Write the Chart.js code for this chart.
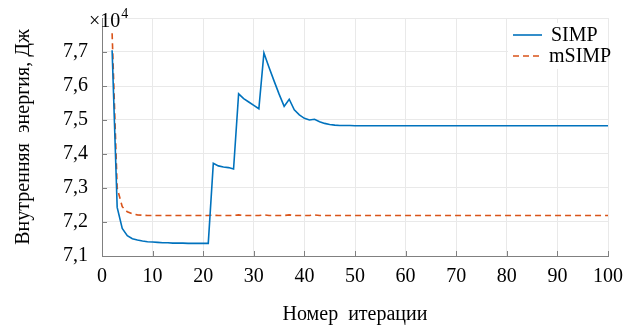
<!DOCTYPE html>
<html><head><meta charset="utf-8">
<script src="https://cdn.jsdelivr.net/npm/chart.js@4/dist/chart.umd.min.js"></script>
<style>html,body{margin:0;padding:0;background:#fff}#wrap{width:623px;height:329px}</style>
</head><body><div id="wrap"><canvas id="c" width="623" height="329"></canvas></div>
<script>
const iterations = [2,3,4,5,6,7,8,9,10,11,12,13,14,15,16,17,18,19,20,21,22,23,24,25,26,27,28,29,30,31,32,33,34,35,36,37,38,39,40,41,42,43,44,45,46,47,48,49,50,51,52,53,54,55,56,57,58,59,60,61,62,63,64,65,66,67,68,69,70,71,72,73,74,75,76,77,78,79,80,81,82,83,84,85,86,87,88,89,90,91,92,93,94,95,96,97,98,99,100];
const simp = [7.705,7.243,7.181,7.160,7.151,7.147,7.144,7.142,7.141,7.140,7.139,7.139,7.138,7.138,7.138,7.137,7.137,7.137,7.137,7.137,
  7.373,7.365,7.362,7.360,7.356,7.577,7.563,7.553,7.543,7.533,7.697,7.655,7.615,7.576,7.540,7.561,7.530,7.515,7.505,7.500,7.502,7.495,7.490,7.487,7.485,7.484,
  7.484,7.484,7.483,7.483,7.483,7.483,7.483,7.483,7.483,7.483,7.483,7.483,7.483,7.483,7.483,7.483,7.483,7.483,7.483,7.483,7.483,7.483,7.483,7.483,
  7.483,7.483,7.483,7.483,7.483,7.483,7.483,7.483,7.483,7.483,7.483,7.483,7.483,7.483,7.483,7.483,7.483,7.483,7.483,7.483,7.483,7.483,7.483,7.483,7.483,7.483,7.483,7.483,7.483];
const msimp = [7.755,7.300,7.245,7.230,7.224,7.221,7.220,7.219,7.219,7.219,7.219,7.219,7.219,7.219,7.219,7.219,7.219,7.219,7.219,7.219,
  7.220,7.219,7.219,7.219,7.219,7.221,7.219,7.219,7.219,7.219,7.221,7.219,7.219,7.219,7.219,7.221,7.219,7.219,7.219,7.219,7.221,7.219,7.219,7.219,7.219,7.219,
  7.219,7.219,7.219,7.219,7.219,7.219,7.219,7.219,7.219,7.219,7.219,7.219,7.219,7.219,7.219,7.219,7.219,7.219,7.219,7.219,7.219,7.219,7.219,7.219,
  7.219,7.219,7.219,7.219,7.219,7.219,7.219,7.219,7.219,7.219,7.219,7.219,7.219,7.219,7.219,7.219,7.219,7.219,7.219,7.219,7.219,7.219,7.219,7.219,7.219,7.219,7.219,7.219,7.219];
const seriesNames = ['SIMP','mSIMP'];
const xTickValues = [0,10,20,30,40,50,60,70,80,90,100];
const yTickValues = [7.1,7.2,7.3,7.4,7.5,7.6,7.7,7.8];
const exponentLabel = ['×10','4'];

const FONT = "'Liberation Serif', 'Times New Roman', serif";
const blue = '#0072BD', orange = '#D95319';

const extras = {
  id: 'extras',
  afterDraw(chart) {
    const ctx = chart.ctx, xs = chart.scales.x, ys = chart.scales.y, a = chart.chartArea;
    ctx.save();
    ctx.strokeStyle = '#808080'; ctx.lineWidth = 1;
    ctx.beginPath();
    xTickValues.forEach(v => { const p = Math.round(xs.getPixelForValue(v)) + 0.5; ctx.moveTo(p, a.bottom); ctx.lineTo(p, a.bottom - 5); });
    yTickValues.slice(0, -1).forEach(v => { const p = Math.round(ys.getPixelForValue(v)) + 0.5; ctx.moveTo(a.left, p); ctx.lineTo(a.left + 5, p); });
    ctx.stroke();
    ctx.fillStyle = '#000';
    ctx.textBaseline = 'alphabetic'; ctx.textAlign = 'left';
    ctx.font = '20px ' + FONT;
    ctx.fillText(exponentLabel[0], 89, 27);
    const w = ctx.measureText(exponentLabel[0]).width;
    ctx.font = '14px ' + FONT;
    ctx.fillText(exponentLabel[1], 89 + w + 1, 18);
    ctx.fillStyle = '#fff';
    ctx.fillRect(508, 23, 96, 46);
    const items = chart.data.datasets;
    const rows = [35, 56];
    items.forEach((ds, i) => {
      ctx.strokeStyle = ds.borderColor; ctx.lineWidth = 1.6;
      ctx.setLineDash(ds.borderDash || []);
      ctx.beginPath(); ctx.moveTo(513, rows[i]); ctx.lineTo(542, rows[i]); ctx.stroke();
      ctx.setLineDash([]);
      ctx.fillStyle = '#000'; ctx.font = '20px ' + FONT; ctx.textBaseline = 'middle';
      ctx.fillText(ds.label, i === 0 ? 551 : 549, rows[i] + 1);
    });
    ctx.restore();
  }
};

new Chart(document.getElementById('c'), {
  type: 'line',
  data: {
    datasets: [
      { label: seriesNames[0], data: iterations.map((x, i) => ({x, y: simp[i]})), borderColor: blue, borderWidth: 1.6, pointRadius: 0, fill: false, tension: 0 },
      { label: seriesNames[1], data: iterations.map((x, i) => ({x, y: msimp[i]})), borderColor: orange, borderWidth: 1.6, borderDash: [6, 4], pointRadius: 0, fill: false, tension: 0 }
    ]
  },
  options: {
    responsive: false, animation: false,
    layout: { padding: { top: 18, right: 15, left: 0, bottom: 0 } },
    plugins: { legend: { display: false }, tooltip: { enabled: false } },
    scales: {
      x: {
        type: 'linear', min: 0, max: 100,
        afterBuildTicks: s => { s.ticks = xTickValues.map(v => ({value: v})); },
        afterFit: s => { s.height = 73; s.paddingLeft = 0; s.paddingRight = 0; },
        grid: { color: '#e9e9e9', drawTicks: false },
        border: { color: '#808080', width: 1 },
        ticks: { color: '#000', font: { family: FONT, size: 20 }, padding: 9, maxRotation: 0, autoSkip: false, callback: v => String(v) },
        title: { display: true, text: 'Номер  итерации', color: '#000', font: { family: FONT, size: 20 }, padding: { top: 0, bottom: 2 } }
      },
      y: {
        type: 'linear', min: 7.1, max: 7.8,
        afterBuildTicks: s => { s.ticks = yTickValues.map(v => ({value: v})); },
        afterFit: s => { s.width = 102; s.paddingTop = 0; s.paddingBottom = 0; },
        grid: { color: '#e9e9e9', drawTicks: false },
        border: { color: '#808080', width: 1 },
        ticks: { color: '#000', font: { family: FONT, size: 20 }, padding: 14, autoSkip: false,
          callback: v => (Math.abs(v - 7.8) < 1e-6 ? '' : v.toFixed(1).replace('.', ',')) },
        title: { display: true, text: 'Внутренняя  энергия, Дж', color: '#000', font: { family: FONT, size: 20 }, padding: { top: 12, bottom: 0 } }
      }
    }
  },
  plugins: [extras]
});
</script>
</body></html>
